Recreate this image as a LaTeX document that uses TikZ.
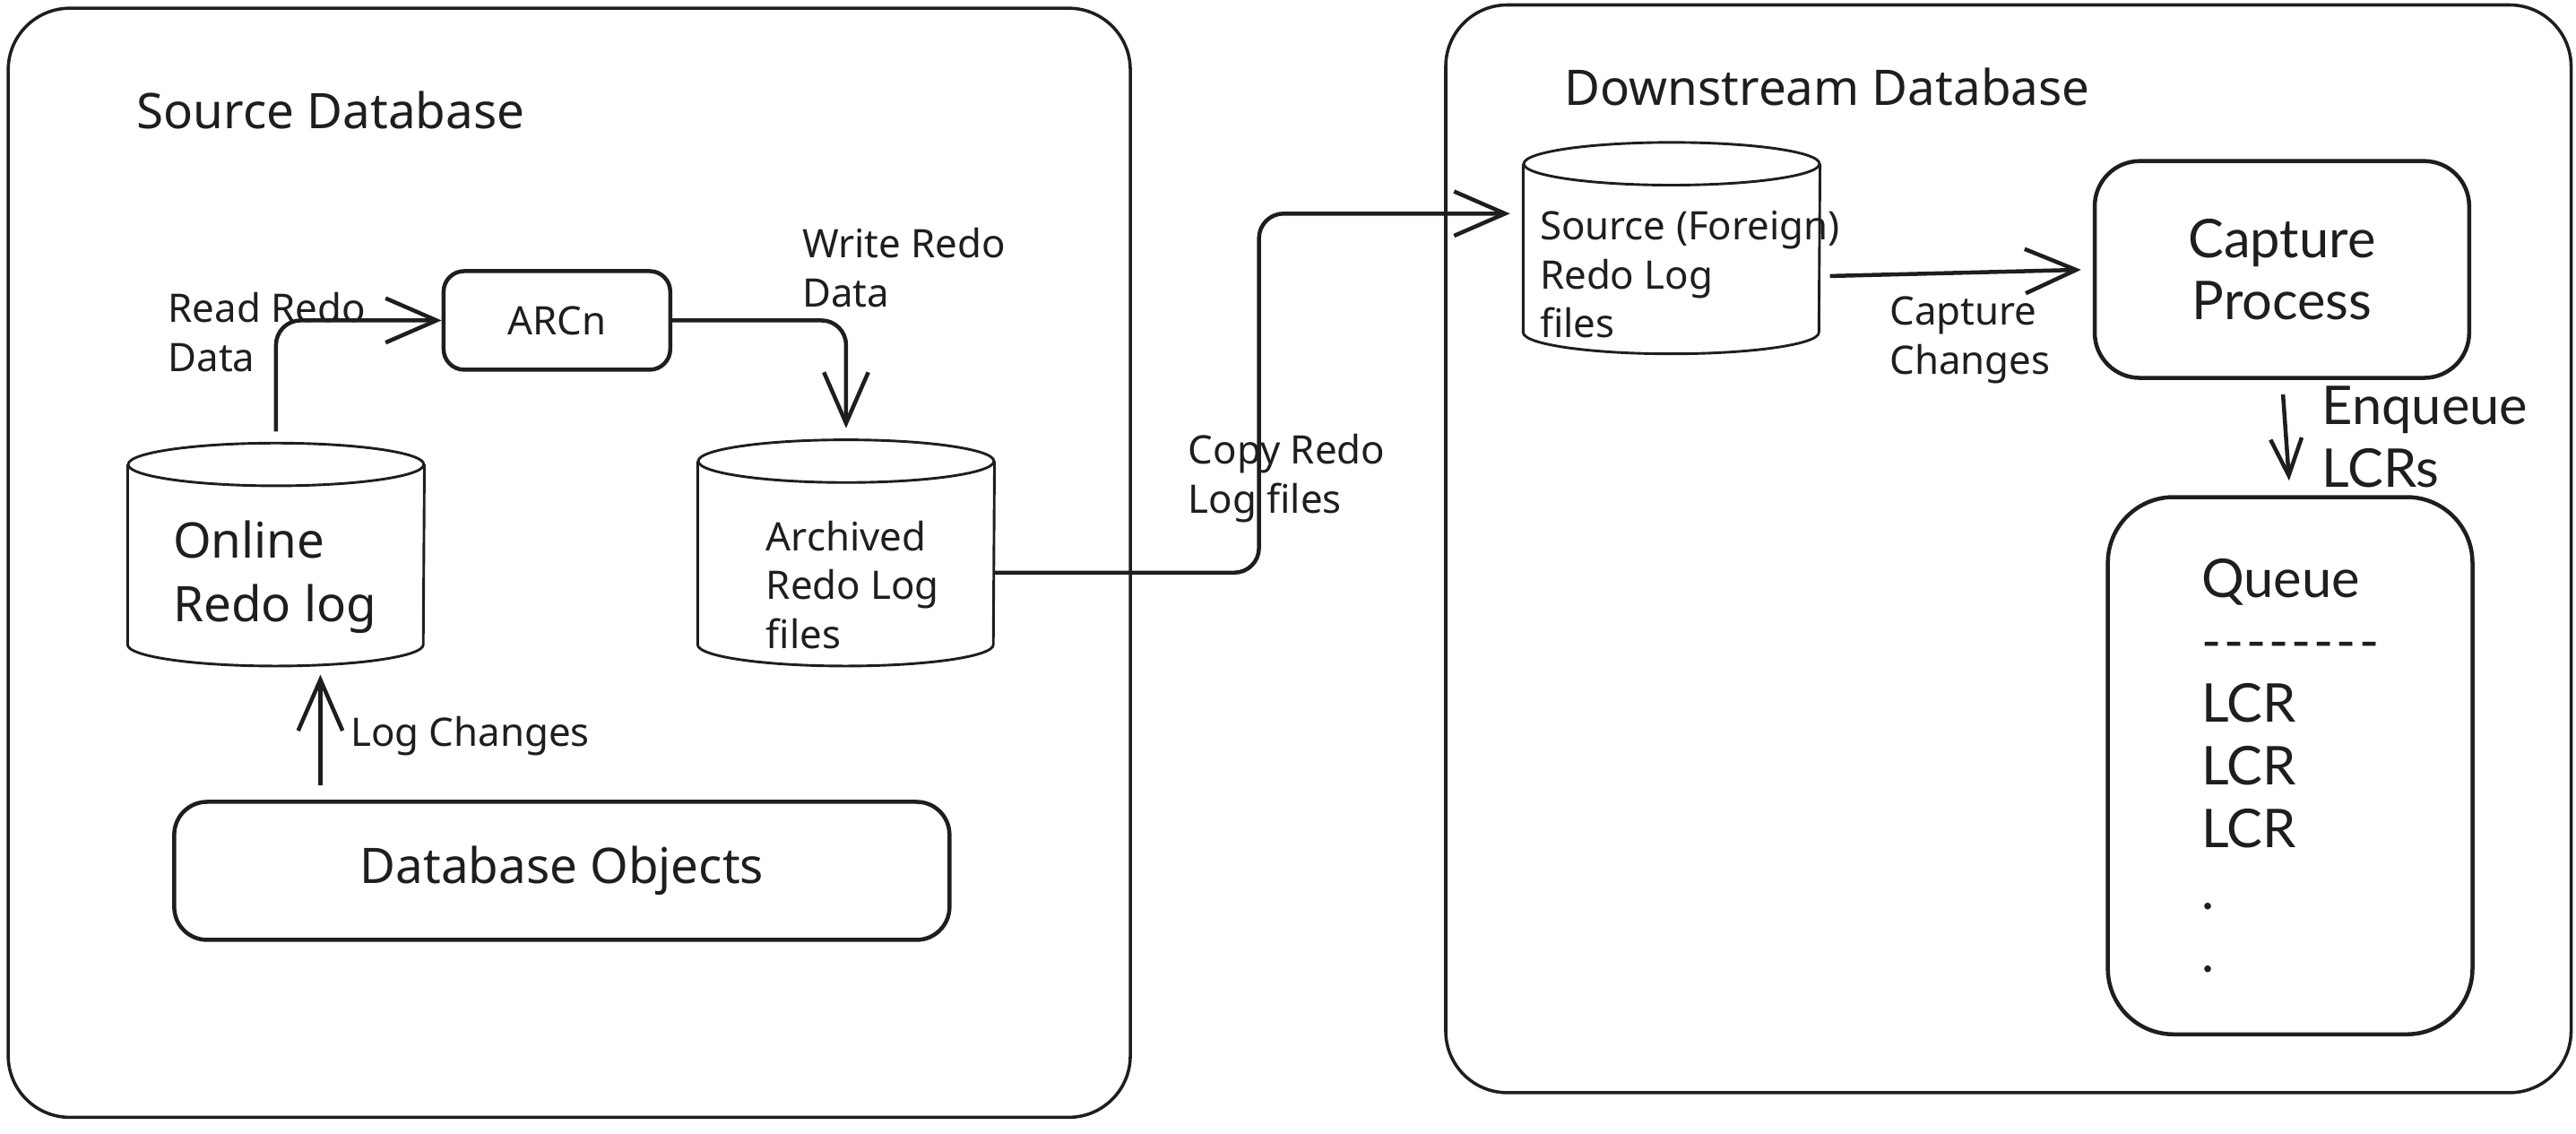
\documentclass[tikz,border=0pt]{standalone}
\usepackage{fontspec}
\setmainfont{Noto Sans}
\newfontfamily\latofont{Lato}
\usetikzlibrary{arrows.meta,calc,positioning,shapes.geometric}

\definecolor{ink}{HTML}{1E1E1E}
\newcommand{\smallfont}{\fontsize{13.6}{17}\selectfont}
\newcommand{\bigfont}{\fontsize{17}{22}\selectfont}
\newcommand{\procfont}{\latofont\fontsize{18.5}{21.6}\selectfont}

\tikzset{
	area/.style={draw=ink,line width=1.1pt,rounded corners=0.75cm},
	proc/.style={draw=ink,line width=1.4pt,inner sep=0pt,align=center,text=ink},
	store/.style={inner sep=0pt,minimum width=3.6cm},
	storeline/.style={draw=ink,line width=0.9pt},
	storetext/.style={anchor=west,inner sep=0pt,align=left,text=ink},
	note/.style={anchor=west,inner sep=0pt,align=left,text=ink,font=\smallfont},
	flow/.style={draw=ink,line width=1.4pt,rounded corners=0.3cm,
		-{Straight Barb[length=0.62cm,width=0.54cm]}},
}

\begin{document}
\begin{tikzpicture}[x=0.02cm,y=-0.02cm]
	\useasboundingbox (0,0) rectangle (1568,690);

	% the two databases
	\draw[area] (5,5) rectangle (688,680);
	\draw[area] (880,3) rectangle (1565,665);
	\node[note,font=\fontsize{17}{22}\selectfont] (srctitle) at (83,67) {Source Database};
	\node[note,font=\fontsize{17}{22}\selectfont] (dsttitle) at (952,53) {Downstream Database};

	% source side
	\node[store,minimum height=2.7cm] (online) at (168,337.5) {};
	\node[storetext,font=\bigfont] (onlinetxt) at (105,351) {Online\\Redo log};
	\node[proc,rounded corners=0.25cm,minimum width=2.76cm,minimum height=1.2cm,font=\smallfont] (arcn) at (339,195) {ARCn};
	\node[store,minimum height=2.74cm] (archived) at (515,336.5) {};
	\node[storetext,font=\smallfont] (archivedtxt) at (466,356) {Archived\\Redo Log\\files};
	\node[proc,rounded corners=0.4cm,minimum width=9.44cm,minimum height=1.68cm,font=\bigfont] (dbobj) at (342,530) {Database Objects};

	% downstream side
	\node[store,minimum height=2.56cm] (foreign) at (1017.5,151) {};
	\node[storetext,font=\smallfont] (foreigntxt) at (937,167) {Source (Foreign)\\Redo Log\\files};
	\node[proc,rounded corners=0.55cm,minimum width=4.56cm,minimum height=2.64cm,font=\procfont] (capture) at (1389,164) {Capture\\Process};
	\node[proc,rounded corners=0.8cm,minimum width=4.44cm,minimum height=6.54cm,font=\procfont,align=left] (queue) at (1394,466)
		{Queue\\{\addfontfeatures{LetterSpace=5}-{}-{}-{}-{}-{}-{}-{}-}\\LCR\\LCR\\LCR\\.\\.};

	% cylinder outlines
	\foreach \c in {online,archived,foreign}{
		\draw[storeline] ($(\c.north west)+(0,13)$) -- ($(\c.south west)+(0,-13)$)
			arc[start angle=180,end angle=360,x radius=1.8cm,y radius=0.26cm]
			-- ($(\c.north east)+(0,13)$);
		\draw[storeline] ($(\c.north)+(0,13)$) ellipse[x radius=1.8cm,y radius=0.26cm];
	}

	% connectors
	\coordinate (logx) at (195,0);
	\draw[flow,shorten <=4pt] (online.north) |- (arcn.west);
	\draw[flow,shorten >=4pt] (arcn.east) -| (archived.north);
	\draw[flow] ($(archived.east)+(0,12)$) -- ++(161,0) |- ($(foreign.west)+(-8,-21)$);
	\draw[flow,rounded corners=0pt,shorten >=4pt] ($(foreign.east)+(6,17)$) -- (capture.west);
	\draw[flow,-{Straight Barb[length=0.45cm,width=0.38cm]},shorten <=5pt,shorten >=5pt] (capture.south) -- (queue.north);
	\draw[flow,shorten <=5pt,shorten >=3pt] (dbobj.north -| logx) -- (online.south -| logx);

	% connector labels
	\node[note] (readlbl) at (102,202) {Read Redo\\Data};
	\node[note] (writelbl) at (488,163) {Write Redo\\Data};
	\node[note] (copylbl) at (723,291) {Copy Redo\\Log files};
	\node[note] (changeslbl) at (1150,207) {Capture\\Changes};
	\node[note,font=\procfont] (enqlbl) at (1413,266) {Enqueue\\LCRs};
	\node[note] (loglbl) at (213,448) {Log Changes};
\end{tikzpicture}
\end{document}
